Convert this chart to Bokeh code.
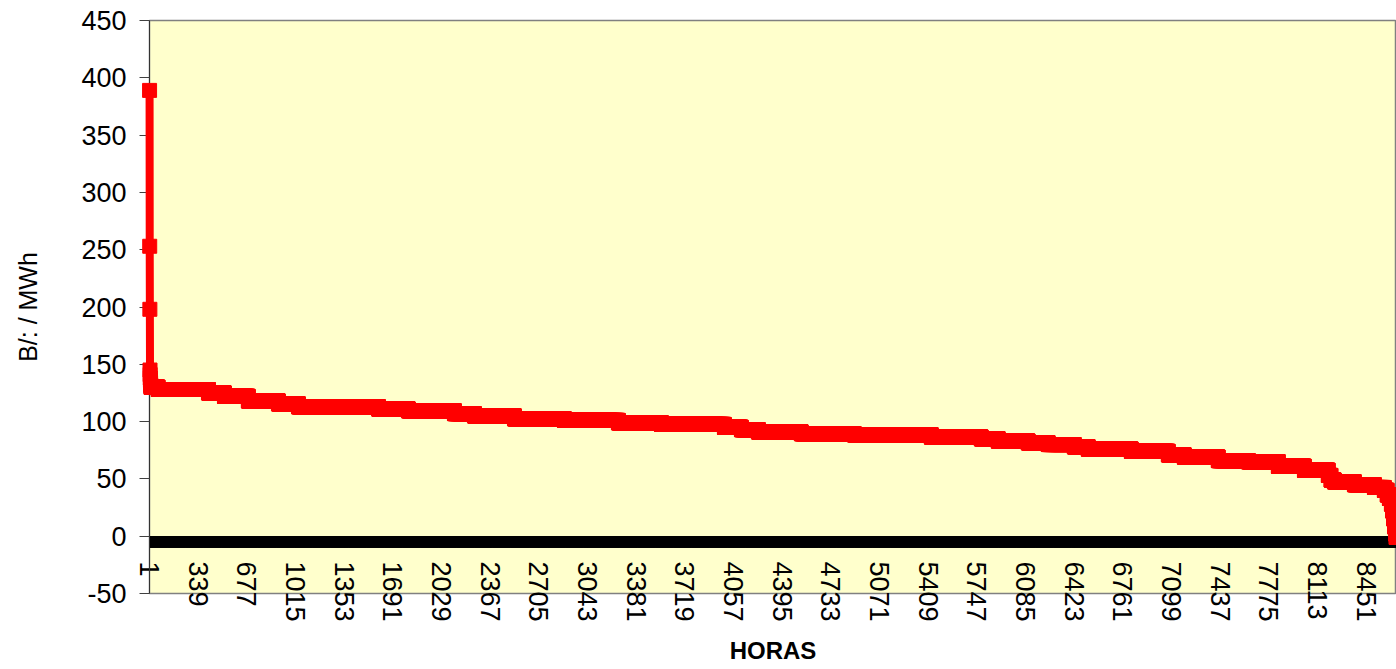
import numpy as np
from bokeh.plotting import figure
from bokeh.models import FixedTicker, Range1d, ColumnDataSource, LinearAxis, PrintfTickFormatter
from bokeh.embed import file_html
from bokeh.resources import INLINE

# ---- data ----
peak_values = [389, 253, 198, 145, 141, 138, 136, 134, 132, 131]
run_values = [130, 128, 125, 122, 118, 115.5, 113, 111, 109.5, 107, 105, 102.5,
              101, 99, 97.5, 95, 93, 91, 89.5, 88.5, 86.5, 85, 83, 81.5, 80, 78,
              76, 74, 71, 69, 66, 65, 61, 57.5, 53, 49, 47.5, 45, 42.5, 40, 36,
              33, 28, 22, 15, 8, 2, -1]
run_end_hours = [60, 409, 520, 686, 895, 1034, 1590, 1798, 2117, 2256, 2534, 2881,
                 3256, 3555, 3992, 4110, 4228, 4526, 4894, 5429, 5776, 5894, 6102,
                 6241, 6422, 6519, 6818, 7075, 7186, 7422, 7631, 7839, 8020, 8186,
                 8205, 8228, 8367, 8506, 8575, 8595, 8610, 8624, 8632, 8640, 8647,
                 8653, 8657, 8660]
tick_label_hours = [1, 339, 677, 1015, 1353, 1691, 2029, 2367, 2705, 3043, 3381,
                    3719, 4057, 4395, 4733, 5071, 5409, 5747, 6085, 6423, 6761,
                    7099, 7437, 7775, 8113, 8451]
y_ticks = [-50, 0, 50, 100, 150, 200, 250, 300, 350, 400, 450]

counts = np.diff([len(peak_values)] + run_end_hours)
prices = np.concatenate([peak_values, np.repeat(run_values, counts)])
hours = np.arange(1, len(prices) + 1)
src = ColumnDataSource(dict(h=hours, price=prices))

FONT = "Liberation Sans"

p = figure(frame_width=1247, frame_height=573, output_backend="svg",
           toolbar_location=None,
           x_range=Range1d(0.5, hours[-1] + 0.5),
           y_range=Range1d(-50, 450),
           min_border_left=149, min_border_right=0, min_border_top=20,
           min_border_bottom=74)

p.background_fill_color = "#FFFFCC"
p.border_fill_color = "white"
p.outline_line_color = "#808080"
p.outline_line_width = 1.5
p.xgrid.visible = False
p.ygrid.visible = False

# line + square markers on every point
r1 = p.line("h", "price", source=src, line_color="#FF0000", line_width=8)
r2 = p.scatter("h", "price", source=src, marker="square", size=14,
               fill_color="#FF0000", line_color="#FF0000")
r1.level = "overlay"
r2.level = "overlay"

# x axis with labels (below, labels pulled up to start just under the zero line)
xa = p.xaxis[0]
xa.ticker = FixedTicker(ticks=tick_label_hours)
xa.formatter = PrintfTickFormatter(format="%d")
xa.major_tick_in = 0
xa.major_tick_out = 0
xa.minor_tick_in = 0
xa.minor_tick_out = 0
xa.axis_line_color = None
xa.major_label_orientation = "vertical"
xa.major_label_standoff = -32
xa.major_label_text_font = FONT
xa.major_label_text_font_size = "27px"
xa.major_label_text_color = "black"
xa.axis_label = "HORAS"
xa.axis_label_text_font = FONT
xa.axis_label_text_font_style = "bold"
xa.axis_label_text_font_size = "24px"
xa.axis_label_text_color = "black"
xa.axis_label_standoff = 12

# axis crossing at zero: a tick for every hour
x0 = LinearAxis(fixed_location=0,
                ticker=FixedTicker(ticks=tick_label_hours, minor_ticks=list(hours)),
                major_label_text_font_size="0px", major_label_standoff=0)
x0.major_tick_in = 0
x0.major_tick_out = 11
x0.minor_tick_in = 0
x0.minor_tick_out = 11
x0.major_tick_line_color = "black"
x0.minor_tick_line_color = "black"
x0.axis_line_color = "black"
x0.major_label_text_color = None
p.add_layout(x0, "below")

ya = p.yaxis[0]
ya.ticker = FixedTicker(ticks=y_ticks)
ya.formatter = PrintfTickFormatter(format="%d")
ya.major_tick_in = 0
ya.major_tick_out = 10
ya.minor_tick_out = 0
ya.minor_tick_in = 0
ya.axis_line_color = "#333333"
ya.major_tick_line_color = "#404040"
ya.major_label_standoff = 13
ya.major_label_text_font = FONT
ya.major_label_text_font_size = "27px"
ya.major_label_text_color = "black"
ya.axis_label = "B/: / MWh"
ya.axis_label_text_font = FONT
ya.axis_label_text_font_style = "normal"
ya.axis_label_text_font_size = "25px"
ya.axis_label_text_color = "black"
ya.axis_label_standoff = 36

open("out.html", "w").write(file_html(p, INLINE))
